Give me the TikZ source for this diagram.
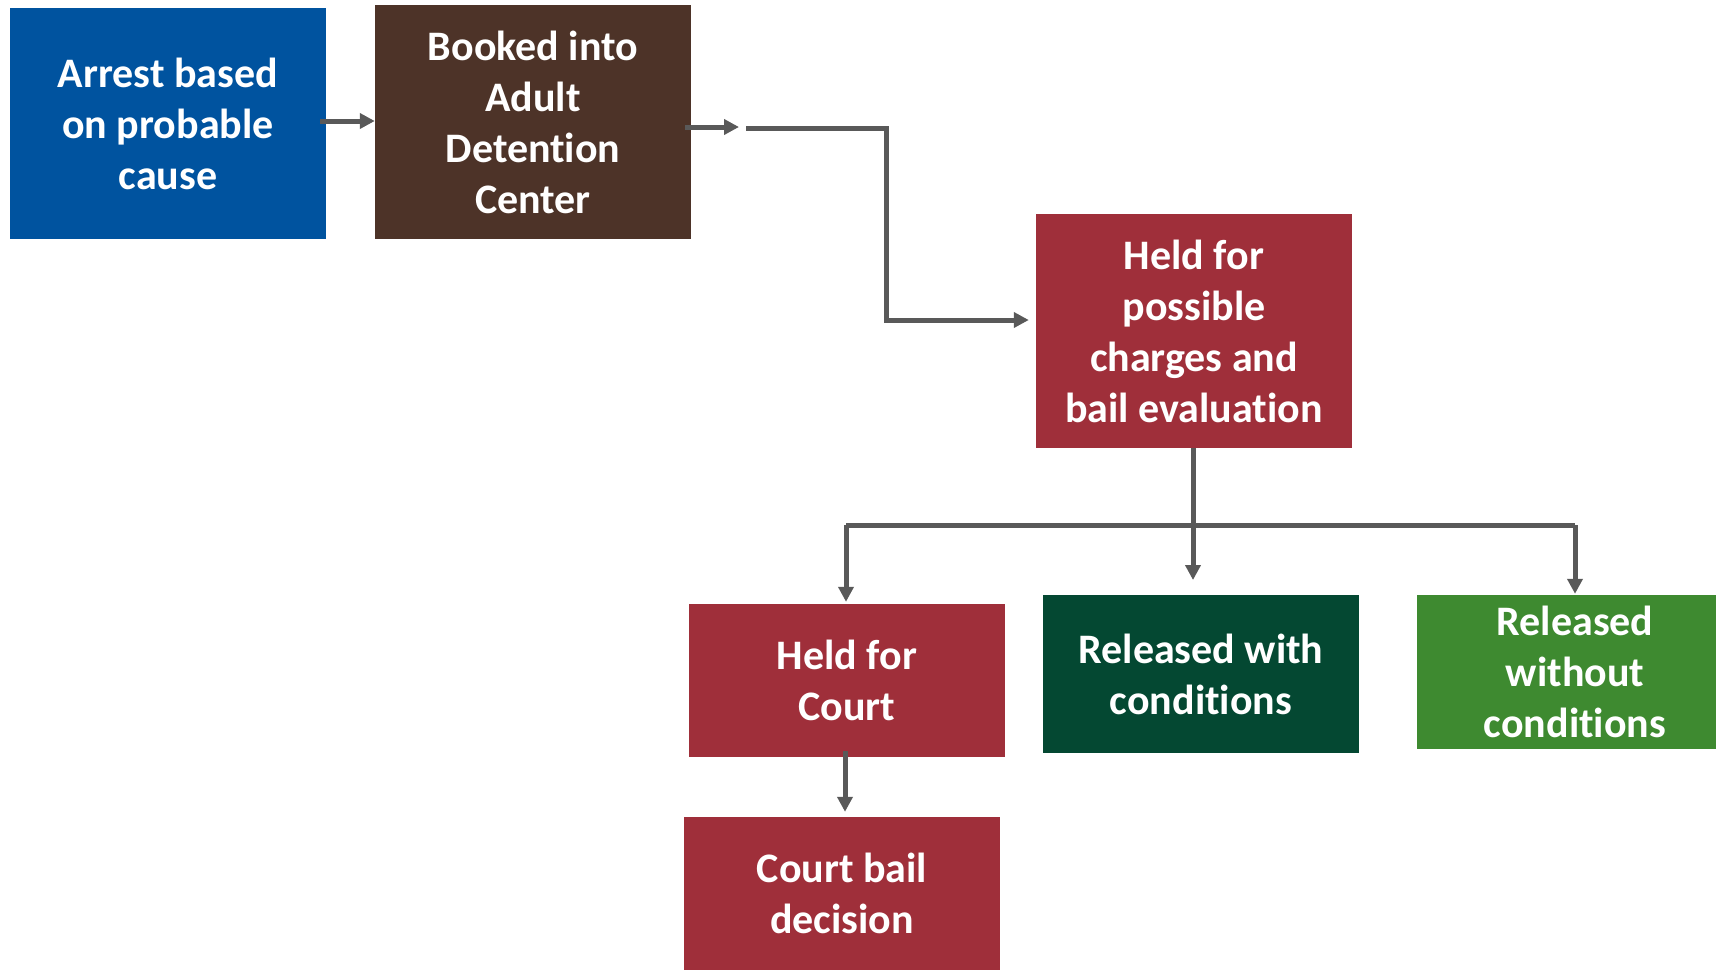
\documentclass[tikz,border=0pt]{standalone}
\usepackage{fontspec}
\setmainfont{Carlito}[RawFeature={-liga;-clig;-calt;-dlig}]
\usetikzlibrary{arrows.meta,calc}
\definecolor{cblue}{HTML}{00539F}
\definecolor{cbrown}{HTML}{4D3328}
\definecolor{cred}{HTML}{9F2F3A}
\definecolor{cdgreen}{HTML}{044832}
\definecolor{cgreen}{HTML}{3E8A30}
\definecolor{cline}{HTML}{595959}
\tikzset{
  box/.style={rectangle, draw=none, inner sep=0pt, text=white, align=center,
    font=\fontsize{42}{51}\selectfont\bfseries},
  conn/.style={draw=cline, line width=5pt},
  arr/.style={conn, -{Triangle[length=15pt,width=15pt]}},
}
\begin{document}
\begin{tikzpicture}[x=1pt,y=-1pt]
\useasboundingbox (0,0) rectangle (1716,970);
\clip (0,0) rectangle (1716,970);
\node[box, fill=cblue, minimum width=316pt, minimum height=231pt] (arrest) at (168,123.5) {Arrest based\\on probable\\cause};
\node[box, fill=cbrown, minimum width=316pt, minimum height=234pt] (booked) at (533,122) {Booked into\\Adult\\Detention\\Center};
\node[box, fill=cred, minimum width=316pt, minimum height=234pt] (heldp) at (1194,331) {Held for\\possible\\charges and\\bail evaluation};
\node[box, fill=cred, minimum width=316pt, minimum height=153pt] (heldc) at (847,680.5) {Held for\\Court};
\node[box, fill=cdgreen, minimum width=316pt, minimum height=158pt] (relw) at (1201,674) {Released with\\conditions};
\node[box, fill=cgreen, minimum width=316pt, minimum height=154pt] (relwo) at (1575,672) {Released\\without\\conditions};
\node[box, fill=cred, minimum width=316pt, minimum height=153pt] (court) at (842,893.5) {Court bail\\decision};

\coordinate (t1) at (739,127);
\coordinate (j2) at (746,128);
\coordinate (bus) at (0,525);
\coordinate (mid) at (0,580);
\coordinate (r1) at (0,121);

\draw[arr] ([xshift=-6pt]arrest.east |- r1) -- (booked.west |- r1);
\draw[arr] ([xshift=-6pt]booked.east |- t1) -- (t1);
\draw[arr] (j2) -| (886,320) -- ([xshift=-7pt,yshift=11pt]heldp.west);

\draw[conn] ([xshift=-1pt]heldc.north |- bus) -- (relwo.north |- bus);
\draw[arr] ([xshift=-1pt]heldp.south) -- ([xshift=-1pt]heldp.south |- mid);
\draw[arr] ([xshift=-1pt]heldc.north |- bus) -- ([xshift=-1pt,yshift=2pt]heldc.north);
\draw[arr] (relwo.north |- bus) -- ([yshift=1pt]relwo.north);
\draw[arr] ([xshift=-2pt,yshift=6pt]heldc.south) -- ([xshift=-2pt,yshift=5pt]heldc.south |- court.north);
\end{tikzpicture}
\end{document}
